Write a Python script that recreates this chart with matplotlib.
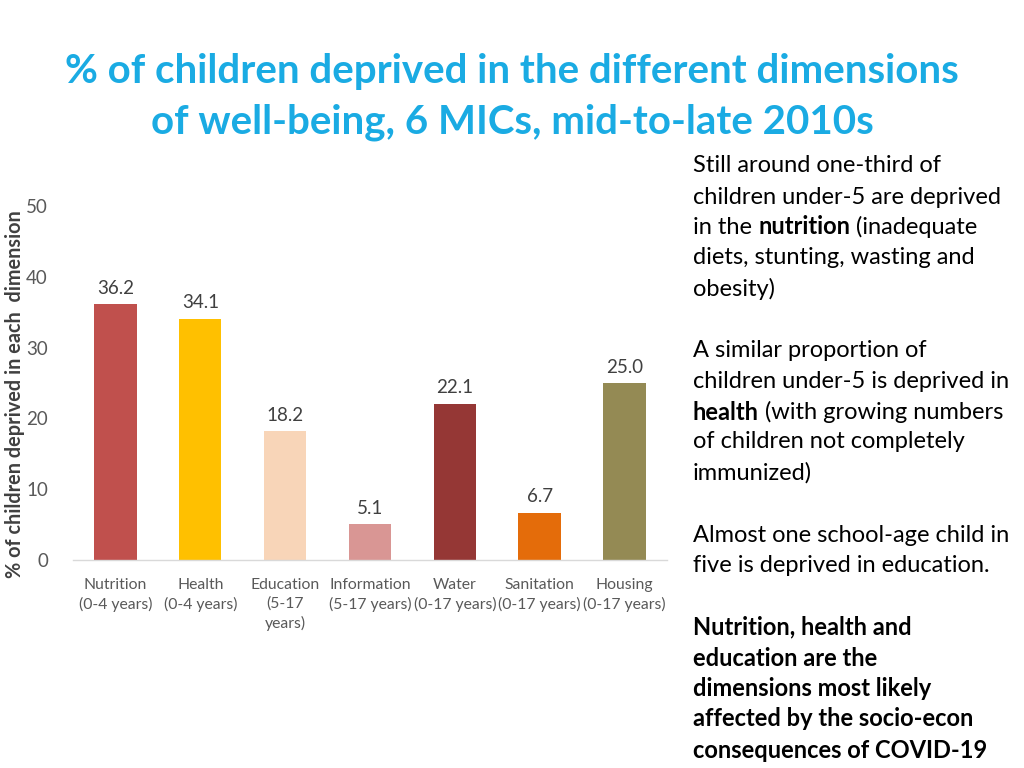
import matplotlib
matplotlib.use("Agg")
import matplotlib.pyplot as plt

categories = ["Nutrition\n(0-4 years)", "Health\n(0-4 years)", "Education\n(5-17\nyears)",
              "Information\n(5-17 years)", "Water\n(0-17 years)", "Sanitation\n(0-17 years)",
              "Housing\n(0-17 years)"]
values = [36.2, 34.1, 18.2, 5.1, 22.1, 6.7, 25.0]
colors = ["#C0504D", "#FFC000", "#F8D5B8", "#D99694", "#953735", "#E46C0A", "#948A54"]
yticks = [0, 10, 20, 30, 40, 50]

FONT = "Lato"
plt.rcParams['font.family'] = [FONT, 'DejaVu Sans']

fig = plt.figure(figsize=(10.24, 7.68), dpi=100)
ax = fig.add_axes([73/1024, 1-560/768, (667-73)/1024, (560-206)/768])

x = list(range(len(values)))
ax.bar(x, values, width=0.5, color=colors, zorder=2)
for xi, v in zip(x, values):
    ax.text(xi, v + 1.0, f"{v:.1f}", ha="center", va="bottom", fontsize=13.5, color="#404040")

ax.set_xlim(-0.5, len(values) - 0.5)
ax.set_ylim(0, 50)
ax.set_yticks(yticks)
ax.set_yticklabels([str(t) for t in yticks], fontsize=13.5, color="#595959")
ax.set_xticks(x)
ax.set_xticklabels(categories, fontsize=11.3, color="#595959", linespacing=1.4)
ax.tick_params(axis="both", length=0)
ax.tick_params(axis="y", pad=18)
ax.tick_params(axis="x", pad=13)
for s in ["top", "right", "left"]:
    ax.spines[s].set_visible(False)
ax.spines["bottom"].set_color("#D9D9D9")
ax.spines["bottom"].set_linewidth(1.0)

fig.text(15/1024, 1-394/768, "% of children deprived in each  dimension", rotation=90,
         ha="center", va="center", fontsize=14.3, fontweight="bold", color="#404040")

fig.text(512/1024, 1-97/768, "% of children deprived in the different dimensions\nof well-being, 6 MICs, mid-to-late 2010s",
         ha="center", va="center", fontsize=29, fontweight="bold", color="#1AABE3", linespacing=1.45)

# Right-hand commentary
lines = [
    (166, [("Still around one-third of", False)]),
    (197, [("children under-5 are deprived", False)]),
    (227, [("in the ", False), ("nutrition", True), (" (inadequate", False)]),
    (258, [("diets, stunting, wasting and", False)]),
    (289, [("obesity)", False)]),
    (350, [("A similar proportion of", False)]),
    (381, [("children under-5 is deprived in", False)]),
    (412, [("health", True), (" (with growing numbers", False)]),
    (442, [("of children not completely", False)]),
    (473, [("immunized)", False)]),
    (535, [("Almost one school-age child in", False)]),
    (565, [("five is deprived in education.", False)]),
    (627, [("Nutrition, health and", True)]),
    (658, [("education are the", True)]),
    (688, [("dimensions most likely", True)]),
    (719, [("affected by the socio-econ", True)]),
    (750, [("consequences of COVID-19", True)]),
]
fs = 17
last = None
for ypix, segs in lines:
    last = None
    for txt, bold in segs:
        kw = dict(fontsize=fs, color="black", fontweight="bold" if bold else "normal")
        if last is None:
            last = fig.text(693/1024, 1-ypix/768, txt, ha="left", va="center", **kw)
        else:
            last = ax.annotate(txt, xy=(1, 0.5), xycoords=last, ha="left", va="center",
                               annotation_clip=False, **kw)

fig.savefig("out.png", dpi=100)
